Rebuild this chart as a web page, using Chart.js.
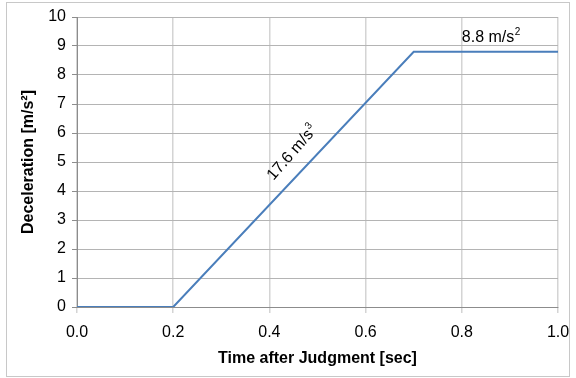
<!DOCTYPE html>
<html>
<head>
<meta charset="utf-8">
<script src="https://cdn.jsdelivr.net/npm/chart.js@4/dist/chart.umd.min.js"></script>
<style>
  html, body { margin: 0; padding: 0; background: #fff; }
  #wrap { width: 576px; height: 378px; position: relative; }
</style>
</head>
<body>
<div id="wrap"><canvas id="c" width="576" height="378"></canvas></div>
<script>
// Deceleration profile: delay, linear ramp (jerk), constant deceleration
const timeSec = [0.0, 0.2, 0.7, 1.0];
const decel = [0, 0, 8.8, 8.8];
const xTicks = [0.0, 0.2, 0.4, 0.6, 0.8, 1.0];
const yTicks = [0, 1, 2, 3, 4, 5, 6, 7, 8, 9, 10];
const jerkValue = 17.6;   // m/s^3, slope of the ramp
const maxDecel = 8.8;     // m/s^2, plateau

const FONT = '"Liberation Sans", Arial, sans-serif';

// Text labels with superscripts, anchored in data space
const notes = {
  id: 'notes',
  beforeDraw(chart) {
    const ctx = chart.ctx;
    ctx.save();
    ctx.fillStyle = '#fff';
    ctx.fillRect(0, 0, chart.width, chart.height);
    ctx.strokeStyle = '#c8c8c8';
    ctx.lineWidth = 1;
    ctx.strokeRect(6.5, 2.5, 563, 374);
    ctx.restore();
  },
  afterDatasetsDraw(chart) {
    const ctx = chart.ctx;
    const xs = chart.scales.x, ys = chart.scales.y;
    const supText = (base, sup, x, y, align) => {
      ctx.font = '16px ' + FONT;
      const w1 = ctx.measureText(base).width;
      ctx.font = '10px ' + FONT;
      const w2 = ctx.measureText(sup).width;
      let x0 = x;
      if (align === 'center') x0 = x - (w1 + w2) / 2;
      ctx.textAlign = 'left';
      ctx.textBaseline = 'alphabetic';
      ctx.font = '16px ' + FONT;
      ctx.fillText(base, x0, y);
      ctx.font = '10px ' + FONT;
      ctx.fillText(sup, x0 + w1 + 0.5, y - 7);
    };
    ctx.save();
    ctx.fillStyle = '#000';
    // plateau label
    supText(maxDecel.toFixed(1) + ' m/s', '2', xs.getPixelForValue(0.8), ys.getPixelForValue(9.15), 'left');
    // ramp label, rotated along the slope
    const px = xs.getPixelForValue(0.445), py = ys.getPixelForValue(5.35);
    ctx.translate(px, py);
    ctx.rotate(-49 * Math.PI / 180);
    supText(jerkValue.toFixed(1) + ' m/s', '3', 0, 6, 'center');
    ctx.restore();
  }
};

new Chart(document.getElementById('c'), {
  type: 'line',
  data: {
    datasets: [{
      data: timeSec.map((t, i) => ({ x: t, y: decel[i] })),
      borderColor: '#4a7ebb',
      borderWidth: 2,
      pointRadius: 0,
      tension: 0,
      fill: false
    }]
  },
  options: {
    responsive: false,
    animation: false,
    devicePixelRatio: 1,
    layout: { padding: { left: 19, top: 17, right: 18, bottom: 10 } },
    plugins: { legend: { display: false }, tooltip: { enabled: false } },
    scales: {
      x: {
        type: 'linear',
        min: 0, max: 1,
        afterBuildTicks(s) { s.ticks = xTicks.map(v => ({ value: v })); },
        afterFit(s) { s.height = 61; s.paddingLeft = 0; s.paddingRight = 0; },
        ticks: {
          color: '#000',
          font: { family: FONT, size: 16 },
          padding: 10,
          maxRotation: 0,
          callback: v => v.toFixed(1)
        },
        grid: { color: '#d4d4d4', lineWidth: 1.5, tickLength: 6, drawTicks: true, tickColor: '#d4d4d4' },
        border: { display: true, color: '#8c8c8c', width: 1 },
        title: {
          display: true,
          text: 'Time after Judgment [sec]',
          color: '#000',
          font: { family: FONT, size: 16, weight: 'bold' },
          padding: { top: 2, bottom: 0 }
        }
      },
      y: {
        min: 0, max: 10,
        afterBuildTicks(s) { s.ticks = yTicks.map(v => ({ value: v })); },
        afterFit(s) { s.width = 58; },
        ticks: {
          color: '#000',
          font: { family: FONT, size: 16 },
          padding: 6
        },
        grid: { color: '#b4b4b4', lineWidth: 1, tickLength: 5, drawTicks: true, tickColor: '#8c8c8c' },
        border: { display: true, color: '#8c8c8c', width: 1 },
        title: {
          display: true,
          text: 'Deceleration [m/s²]',
          color: '#000',
          font: { family: FONT, size: 16, weight: 'bold' },
          padding: { top: 0, bottom: 4 }
        }
      }
    }
  },
  plugins: [notes]
});
</script>
</body>
</html>
